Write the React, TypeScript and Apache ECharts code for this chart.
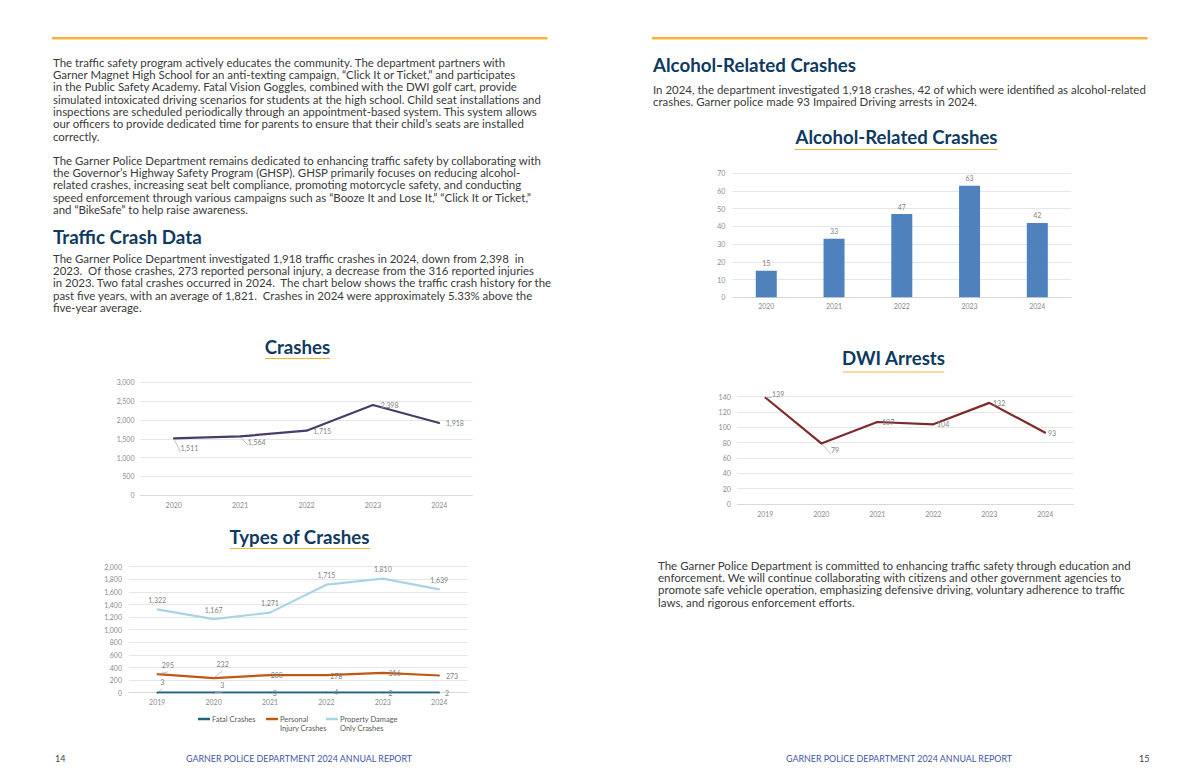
import React, { useEffect, useRef } from "react";
import * as echarts from "echarts";

// ---------- DATA ----------
const crashYears = ["2020", "2021", "2022", "2023", "2024"];
const crashTotals = [1511, 1564, 1715, 2398, 1918];

const typeYears = ["2019", "2020", "2021", "2022", "2023", "2024"];
const fatalCrashes = [3, 3, 3, 4, 2, 2];
const injuryCrashes = [295, 232, 280, 278, 316, 273];
const propertyCrashes = [1322, 1167, 1271, 1715, 1810, 1639];
const typeNames = ["Fatal Crashes", "Personal\nInjury Crashes", "Property Damage\nOnly Crashes"];

const alcoholYears = ["2020", "2021", "2022", "2023", "2024"];
const alcoholCrashes = [15, 33, 47, 63, 42];

const dwiYears = ["2019", "2020", "2021", "2022", "2023", "2024"];
const dwiArrests = [139, 79, 107, 104, 132, 93];

// ---------- TEXT ----------
const para1 = [
  "The traffic safety program actively educates the community. The department partners with",
  "Garner Magnet High School for an anti-texting campaign, \u201CClick It or Ticket,\u201D and participates",
  "in the Public Safety Academy. Fatal Vision Goggles, combined with the DWI golf cart, provide",
  "simulated intoxicated driving scenarios for students at the high school. Child seat installations and",
  "inspections are scheduled periodically through an appointment-based system. This system allows",
  "our officers to provide dedicated time for parents to ensure that their child\u2019s seats are installed",
  "correctly.",
];
const para2 = [
  "The Garner Police Department remains dedicated to enhancing traffic safety by collaborating with",
  "the Governor\u2019s Highway Safety Program (GHSP). GHSP primarily focuses on reducing alcohol-",
  "related crashes, increasing seat belt compliance, promoting motorcycle safety, and conducting",
  "speed enforcement through various campaigns such as \u201CBooze It and Lose It,\u201D \u201CClick It or Ticket,\u201D",
  "and \u201CBikeSafe\u201D to help raise awareness.",
];
const para3 = [
  "The Garner Police Department investigated 1,918 traffic crashes in 2024, down from 2,398  in",
  "2023.  Of those crashes, 273 reported personal injury, a decrease from the 316 reported injuries",
  "in 2023. Two fatal crashes occurred in 2024.  The chart below shows the traffic crash history for the",
  "past five years, with an average of 1,821.  Crashes in 2024 were approximately 5.33% above the",
  "five-year average.",
];
const paraAlcohol = [
  "In 2024, the department investigated 1,918 crashes, 42 of which were identified as alcohol-related",
  "crashes. Garner police made 93 Impaired Driving arrests in 2024.",
];
const paraEnd = [
  "The Garner Police Department is committed to enhancing traffic safety through education and",
  "enforcement. We will continue collaborating with citizens and other government agencies to",
  "promote safe vehicle operation, emphasizing defensive driving, voluntary adherence to traffic",
  "laws, and rigorous enforcement efforts.",
];
const footerText = "GARNER POLICE DEPARTMENT 2024 ANNUAL REPORT";

// ---------- STYLE HELPERS ----------
const FONT = "Lato";
const NAVY = "#0E3A62";
const GOLD = "#F6B336";
const BODY = "#3a3a3a";
const AXIS_TXT = "#8c8c8c";
const LBL = "#7f7f7f";
const BODY_SIZE = 11.45;
const BODY_LH = 12.3;

type LCfg = { pos: string; d: number; off?: number[]; line?: boolean };

function withLabels(values: number[], cfg: LCfg[]) {
  return values.map((v, i) => {
    const c = cfg[i];
    const item: any = {
      value: v,
      label: { position: c.pos, distance: c.d, offset: c.off || [0, 0], color: LBL },
    };
    if (c.line) item.labelLine = { show: true };
    return item;
  });
}

const crashLbl: LCfg[] = [
  { pos: "right", d: 6, off: [0, 10], line: true },
  { pos: "right", d: 7, off: [0, 5.3], line: true },
  { pos: "right", d: 6 },
  { pos: "right", d: 7 },
  { pos: "right", d: 6 },
];
const injuryLbl: LCfg[] = [
  { pos: "top", d: 5, off: [10.7, 0], line: true },
  { pos: "top", d: 5, off: [9, -5], line: true },
  { pos: "right", d: 0 },
  { pos: "right", d: 3, off: [0, 1] },
  { pos: "right", d: 5 },
  { pos: "right", d: 6 },
];
const fatalLbl: LCfg[] = [
  { pos: "top", d: 5, off: [5, -1.5], line: true },
  { pos: "top", d: 5, off: [8.6, 2], line: true },
  { pos: "right", d: 2 },
  { pos: "right", d: 7 },
  { pos: "right", d: 5 },
  { pos: "right", d: 5 },
];
const dwiLbl: LCfg[] = [
  { pos: "right", d: 6, off: [0, -3.5], line: true },
  { pos: "right", d: 9, off: [0, 7], line: true },
  { pos: "right", d: 4 },
  { pos: "right", d: 3 },
  { pos: "right", d: 3 },
  { pos: "right", d: 2 },
];

const fmt = (v: number) => Number(v).toLocaleString("en-US");

function catAxis(grid: number, data: string[], margin: number) {
  return {
    type: "category",
    gridIndex: grid,
    data,
    boundaryGap: true,
    axisLine: { lineStyle: { color: "#d9d9d9", width: 1 } },
    axisTick: { show: false },
    axisLabel: { color: AXIS_TXT, fontSize: 7, fontFamily: FONT, margin },
  };
}
function valAxis(grid: number, max: number, interval: number, extra: any = {}) {
  return {
    type: "value",
    gridIndex: grid,
    min: 0,
    max,
    interval,
    axisLine: { show: false },
    axisTick: { show: false },
    splitLine: { lineStyle: { color: "#e6e6e6", width: 1 }, ...(extra.splitLine || {}) },
    axisLabel: {
      color: AXIS_TXT,
      fontSize: 7,
      fontFamily: FONT,
      margin: extra.margin ?? 7,
      showMaxLabel: extra.showMaxLabel ?? true,
      formatter: (v: number) => fmt(v),
    },
  };
}

const seriesLabel = {
  show: true,
  color: LBL,
  fontSize: 7,
  fontFamily: FONT,
  formatter: (p: any) => fmt(p.value),
};
const leader = { show: false, lineStyle: { color: "#a6a6a6", width: 0.7 } };

function lineSeries(name: string, x: number, y: number, data: any[], color: string, width: number) {
  return {
    name,
    type: "line",
    xAxisIndex: x,
    yAxisIndex: y,
    data,
    symbol: "circle",
    symbolSize: 1.5,
    showSymbol: true,
    itemStyle: { color },
    lineStyle: { color, width },
    label: { ...seriesLabel },
    labelLine: { ...leader },
    emphasis: { disabled: true },
  };
}

function textBlock(lines: string[], x: number, firstCenter: number, size: number, lh: number, fill = BODY) {
  return {
    type: "text",
    x,
    y: firstCenter - lh / 2,
    silent: true,
    style: {
      text: lines.join("\n"),
      fontFamily: FONT,
      fontSize: size,
      lineHeight: lh,
      fill,
      verticalAlign: "top",
      align: "left",
    },
  };
}
function chartTitle(text: string, cx: number, cy: number, ux0: number, ux1: number, uy: number, size: number) {
  return [
    {
      type: "text",
      x: cx,
      y: cy,
      silent: true,
      style: {
        text,
        fontFamily: FONT,
        fontWeight: "bold",
        fontSize: size,
        fill: NAVY,
        align: "center",
        verticalAlign: "middle",
      },
    },
    { type: "rect", silent: true, shape: { x: ux0, y: uy, width: ux1 - ux0, height: 1 }, style: { fill: GOLD } },
  ];
}

export default function App() {
  const ref = useRef<HTMLDivElement>(null);
  useEffect(() => {
    if (!ref.current) return;
    const chart = echarts.init(ref.current, undefined, { renderer: "svg" });

    const legendBase = (name: string, left: number, twoLine: boolean) => ({
      data: [name],
      left,
      top: twoLine ? 705.5 : 714.5,
      padding: 0,
      orient: "horizontal",
      icon: "rect",
      itemWidth: 12,
      itemHeight: 2.5,
      selectedMode: false,
      formatter: (n: string) => (twoLine ? " \n" + n : n),
      textStyle: {
        color: "#595959",
        fontSize: 7.5,
        fontFamily: FONT,
        lineHeight: 9,
        padding: [0, 0, 0, -3],
      },
    });

    const option: any = {
      animation: false,
      backgroundColor: "#ffffff",
      grid: [
        { left: 140.5, top: 382.3, width: 332, height: 113 },
        { left: 129, top: 566.7, width: 338.4, height: 126 },
        { left: 732.4, top: 173.3, width: 338.8, height: 124 },
        { left: 737.3, top: 381.4, width: 336, height: 122.6 },
      ],
      xAxis: [
        catAxis(0, crashYears, 6),
        catAxis(1, typeYears, 6),
        catAxis(2, alcoholYears, 5.5),
        catAxis(3, dwiYears, 6),
      ],
      yAxis: [
        valAxis(0, 3000, 500, { margin: 6 }),
        valAxis(1, 2000, 200, { margin: 7 }),
        valAxis(2, 70, 10, { margin: 7 }),
        valAxis(3, 160, 20, { margin: 6.5, showMaxLabel: false, splitLine: { showMaxLine: false } }),
      ],
      legend: [
        legendBase(typeNames[0], 198, false),
        legendBase(typeNames[1], 266, true),
        legendBase(typeNames[2], 326, true),
      ],
      series: [
        lineSeries("Crashes", 0, 0, withLabels(crashTotals, crashLbl), "#4A3B6B", 2.2),
        lineSeries(typeNames[0], 1, 1, withLabels(fatalCrashes, fatalLbl), "#1F6382", 2),
        lineSeries(typeNames[1], 1, 1, withLabels(injuryCrashes, injuryLbl), "#C1580F", 2.2),
        {
          ...lineSeries(typeNames[2], 1, 1, propertyCrashes, "#A8D5E6", 2.2),
          label: { ...seriesLabel, position: "top", distance: 5 },
        },
        {
          name: "Alcohol",
          type: "bar",
          xAxisIndex: 2,
          yAxisIndex: 2,
          data: alcoholCrashes,
          barWidth: 21,
          itemStyle: { color: "#4F81BD" },
          label: { ...seriesLabel, position: "top", distance: 4 },
          emphasis: { disabled: true },
        },
        lineSeries("DWI Arrests", 3, 3, withLabels(dwiArrests, dwiLbl), "#7E2A2B", 2.2),
      ],
      graphic: [
        // top gold rules
        { type: "rect", silent: true, shape: { x: 52, y: 37, width: 495.5, height: 2.6 }, style: { fill: GOLD } },
        { type: "rect", silent: true, shape: { x: 652, y: 37, width: 495.5, height: 2.6 }, style: { fill: GOLD } },
        // left page text
        textBlock(para1, 53, 62.3, BODY_SIZE, BODY_LH),
        textBlock(para2, 53, 160.2, BODY_SIZE, BODY_LH),
        {
          type: "text",
          x: 53,
          y: 236,
          silent: true,
          style: { text: "Traffic Crash Data", fontFamily: FONT, fontWeight: "bold", fontSize: 18.8, fill: NAVY, verticalAlign: "middle" },
        },
        textBlock(para3, 53, 258.3, BODY_SIZE, BODY_LH),
        // right page text
        {
          type: "text",
          x: 653,
          y: 65,
          silent: true,
          style: { text: "Alcohol-Related Crashes", fontFamily: FONT, fontWeight: "bold", fontSize: 18.7, fill: NAVY, verticalAlign: "middle" },
        },
        textBlock(paraAlcohol, 653, 89, BODY_SIZE, BODY_LH),
        textBlock(paraEnd, 658, 565, 11.5, 12.4),
        // chart titles
        ...chartTitle("Crashes", 297.5, 346.7, 265, 330, 358, 18.7),
        ...chartTitle("Types of Crashes", 299.5, 536.5, 230, 370, 548, 18.7),
        ...chartTitle("Alcohol-Related Crashes", 896.5, 136.7, 794.5, 997.5, 149, 18.6),
        ...chartTitle("DWI Arrests", 893.5, 358.3, 842.7, 944.3, 371.5, 18.7),
        // footer
        { type: "text", x: 55, y: 758, silent: true, style: { text: "14", fontFamily: FONT, fontSize: 9, fill: "#444", verticalAlign: "middle" } },
        { type: "text", x: 186, y: 758, silent: true, style: { text: footerText, fontFamily: FONT, fontSize: 8.9, fill: "#3F57A6", verticalAlign: "middle" } },
        { type: "text", x: 786, y: 758, silent: true, style: { text: footerText, fontFamily: FONT, fontSize: 8.9, fill: "#3F57A6", verticalAlign: "middle" } },
        { type: "text", x: 1139, y: 758, silent: true, style: { text: "15", fontFamily: FONT, fontSize: 9, fill: "#444", verticalAlign: "middle" } },
      ],
    };
    chart.setOption(option);
    return () => chart.dispose();
  }, []);

  return (
    <div
      ref={ref}
      style={{ position: "absolute", left: 0, top: 0, width: 1200, height: 776, background: "#fff" }}
    />
  );
}
